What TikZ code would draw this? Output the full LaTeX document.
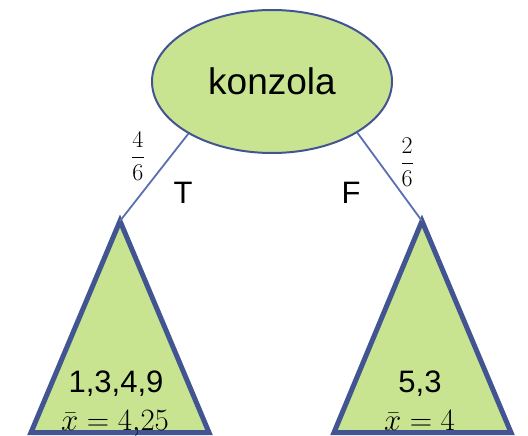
\RequirePackage{fix-cm}
\documentclass[tikz,border=0pt]{standalone}
\usepackage{amsmath}
\usepackage{fontspec}
\setmainfont{Liberation Sans}
\usetikzlibrary{shapes.geometric}
\definecolor{leaf}{RGB}{200,228,144}
\definecolor{edgeblue}{RGB}{66,84,146}
\definecolor{linkblue}{RGB}{90,110,180}
\begin{document}
\begin{tikzpicture}[x=1pt,y=-1pt,
  rootnode/.style={ellipse, draw=edgeblue, line width=2pt, fill=leaf,
    minimum width=240pt, minimum height=143pt, inner sep=0pt,
    font=\fontsize{37}{40}\selectfont},
  leafshape/.style={draw=edgeblue, line width=5pt, fill=leaf},
  conn/.style={draw=linkblue, line width=1.8pt},
  lbl/.style={anchor=base, inner sep=0pt, font=\fontsize{31}{34}\selectfont},
  fracnode/.style={inner sep=0pt, font=\fontsize{24}{28}\selectfont}]
\useasboundingbox (0,0) rectangle (528,436);
% leaves
\coordinate (ltop) at (120,221);
\coordinate (lbl1) at (31,432.5);
\coordinate (lbr1) at (209,432.5);
\coordinate (rtop) at (422,221);
\coordinate (rbl1) at (334,432.5);
\coordinate (rbr1) at (511,432.5);
\draw[leafshape] (ltop) -- (lbr1) -- (lbl1) -- cycle;
\draw[leafshape] (rtop) -- (rbr1) -- (rbl1) -- cycle;
% root
\node[rootnode] (root) at (272,81.5) {konzola};
% connectors
\draw[conn] (root.212) -- (ltop);
\draw[conn] (root.329) -- (rtop);
% branch labels
\node[lbl] (tlab) at (183,203) {T};
\node[lbl] (flab) at (351,203) {F};
\node[fracnode] (pl) at (138,156) {$\dfrac{4}{6}$};
\node[fracnode] (pr) at (407,162) {$\dfrac{2}{6}$};
% leaf texts
\node[lbl] (l1) at (116,392) {1,3,4,9};
\node[lbl] (l2) at (115,430) {$\bar{x}=4{,}25$};
\node[lbl] (r1) at (420,392) {5,3};
\node[lbl] (r2) at (419.5,430) {$\bar{x}=4$};
\end{tikzpicture}
\end{document}
